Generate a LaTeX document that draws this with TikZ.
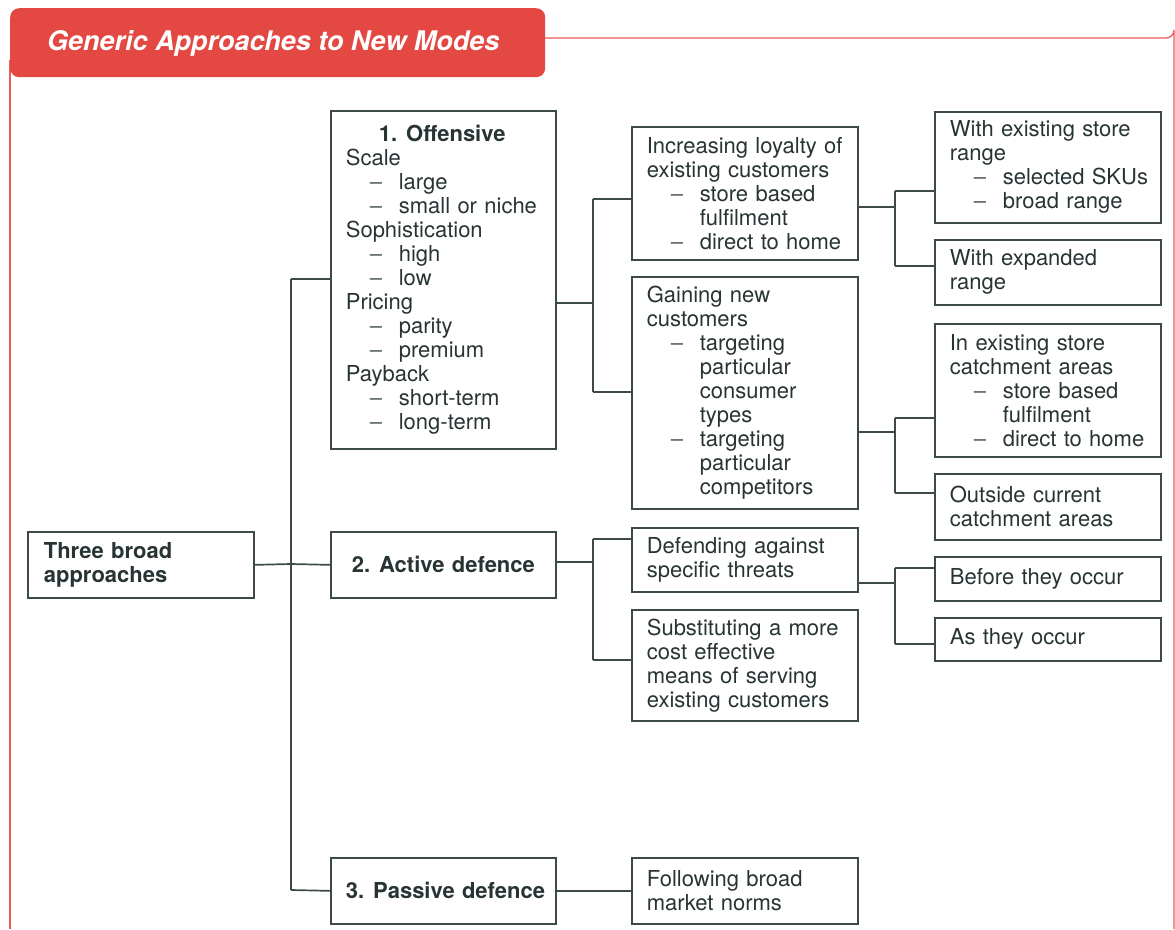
\documentclass[tikz,border=0pt]{standalone}
\usepackage{fontspec}
\setmainfont{TeX Gyre Heros}
\begin{document}
\definecolor{linec}{RGB}{62,74,74}
\definecolor{textc}{RGB}{40,52,52}
\definecolor{headred}{RGB}{228,72,66}
\definecolor{framered}{RGB}{232,92,92}
\newcommand{\li}[1]{\mbox{\hspace*{24pt}\makebox[29pt][l]{\color{textc!80}–}#1}}
\newcommand{\lc}[1]{\mbox{\hspace*{53pt}#1}}
\newcommand{\numgap}{\hspace{9pt}}
\begin{tikzpicture}[x=1pt,y=-1pt,
  box/.style={draw=linec, line width=1.7pt, rectangle, anchor=north west,
    inner xsep=15pt, inner ysep=0pt, text width=196pt, align=left,
    text=textc, font={\fontsize{22}{24}\selectfont}},
  hbox/.style={box, font={\fontsize{22}{24}\selectfont\bfseries}},
  link/.style={draw=linec, line width=1.7pt}]
\useasboundingbox (0,0) rectangle (1175,929);

% frame and heading
\draw[framered, line width=1.3pt] (545,38) -- (1166,38) arc[start angle=90, end angle=0, radius=8] -- (1174,929);
\draw[framered, line width=1.3pt] (10,60) -- (10,929);
\node[fill=headred, rounded corners=9pt, minimum width=535pt, minimum height=69pt,
  anchor=north west, inner sep=0pt] (head) at (10,8) {};
\node[anchor=base west, text=white, font={\fontsize{27}{30}\selectfont\bfseries\itshape}, inner sep=0pt]
  (title) at (47,50) {Generic Approaches to New Modes};

% level 0
\node[hbox, inner xsep=16pt, text width=194pt, minimum height=66pt] (three) at (27,531) {Three broad\\approaches};

% level 1
\node[box, text width=195pt, minimum height=338pt] (off) at (330,110) {%
  \mbox{\hspace*{33pt}\textbf{1.\numgap Offensive}}\\
  Scale\\ \li{large}\\ \li{small or niche}\\
  Sophistication\\ \li{high}\\ \li{low}\\
  Pricing\\ \li{parity}\\ \li{premium}\\
  Payback\\ \li{short-term}\\ \li{long-term}};
\node[hbox, text width=195pt, align=center, minimum height=66pt] (act) at (330,531) {\mbox{2.\numgap Active defence}};
\node[hbox, text width=195pt, align=center, minimum height=66pt] (pas) at (330,857) {\mbox{3.\numgap Passive defence}};

% level 2
\node[box, minimum height=133pt] (loy) at (631,126) {Increasing loyalty of\\existing customers\\
  \li{store based}\\ \lc{fulfilment}\\ \li{direct to home}};
\node[box, minimum height=232pt] (gain) at (631,276) {Gaining new\\customers\\
  \li{targeting}\\ \lc{particular}\\ \lc{consumer}\\ \lc{types}\\
  \li{targeting}\\ \lc{particular}\\ \lc{competitors}};
\node[box, minimum height=64pt] (def) at (631,527) {Defending against\\specific threats};
\node[box, minimum height=111pt] (sub) at (631,609) {Substituting a more\\cost effective\\means of serving\\existing customers};
\node[box, minimum height=66pt] (fol) at (631,857) {Following broad\\market norms};

% level 3
\node[box, minimum height=111pt] (wex) at (934,111) {With existing store\\range\\ \li{selected SKUs}\\ \li{broad range}};
\node[box, minimum height=65pt] (wexp) at (934,239) {With expanded\\range};
\node[box, minimum height=133pt] (inex) at (934,323) {In existing store\\catchment areas\\
  \li{store based}\\ \lc{fulfilment}\\ \li{direct to home}};
\node[box, minimum height=66pt] (outc) at (934,473) {Outside current\\catchment areas};
\node[box, minimum height=44pt] (bef) at (934,556) {Before they occur};
\node[box, minimum height=43pt] (asoc) at (934,617) {As they occur};

% fork: three broad approaches
\coordinate (t0) at (291,564);
\coordinate (t1) at (291,279);
\coordinate (t3) at (291,890);
\draw[link] (three.east) -- (t0);
\draw[link] (t1) -- (t3);
\draw[link] (t1) -- (t1 -| off.west);
\draw[link] (t0) -- (act.west);
\draw[link] (t3) -- (pas.west);

% fork: offensive
\coordinate (o0) at (555,303);
\coordinate (o1) at (593,199);
\coordinate (o2) at (593,392);
\draw[link] (o0 -| off.east) -- (o0 -| o1);
\draw[link] (o1) -- (o2);
\draw[link] (o1) -- (o1 -| loy.west);
\draw[link] (o2) -- (o2 -| gain.west);

% fork: active defence
\coordinate (a0) at (555,562);
\coordinate (a1) at (593,539);
\coordinate (a2) at (593,660);
\draw[link] (a0 -| act.east) -- (a0 -| a1);
\draw[link] (a1) -- (a2);
\draw[link] (a1) -- (a1 -| def.west);
\draw[link] (a2) -- (a2 -| sub.west);

% passive defence
\draw[link] (pas.east) -- (pas.east -| fol.west);

% fork: loyalty
\coordinate (l0) at (857,207);
\coordinate (l1) at (895,191);
\coordinate (l2) at (895,266);
\draw[link] (l0 -| loy.east) -- (l0 -| l1);
\draw[link] (l1) -- (l2);
\draw[link] (l1) -- (l1 -| wex.west);
\draw[link] (l2) -- (l2 -| wexp.west);

% fork: gaining
\coordinate (g0) at (857,432);
\coordinate (g1) at (895,418);
\coordinate (g2) at (895,493);
\draw[link] (g0 -| gain.east) -- (g0 -| g1);
\draw[link] (g1) -- (g2);
\draw[link] (g1) -- (g1 -| inex.west);
\draw[link] (g2) -- (g2 -| outc.west);

% fork: defending
\coordinate (d0) at (857,583);
\coordinate (d1) at (895,568);
\coordinate (d2) at (895,644);
\draw[link] (d0 -| def.east) -- (d0 -| d1);
\draw[link] (d1) -- (d2);
\draw[link] (d1) -- (d1 -| bef.west);
\draw[link] (d2) -- (d2 -| asoc.west);
\end{tikzpicture}
\end{document}
